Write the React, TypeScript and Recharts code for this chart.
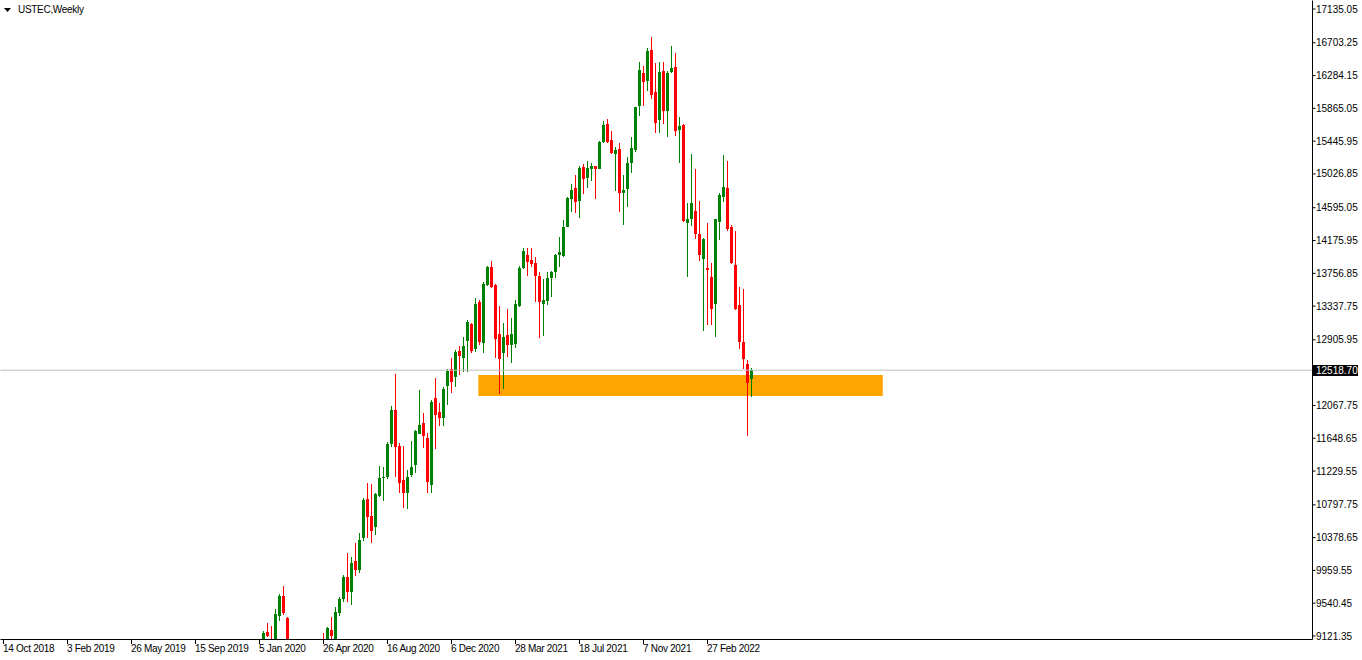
import React from 'react';
import { ComposedChart, Bar, XAxis, YAxis, ReferenceArea, ReferenceLine } from 'recharts';

// Weekly bars; week index 0 is the week of 14 Oct 2018.
// First array entry is week 65 (12 Jan 2020); nulls are weeks whose
// prices sit completely below the visible price range.
const firstWeek = 65;
const weekSlots = 328; // time scale incl. the empty space on the right

const opens = [
  8950, 9176, 9060, 8960, 9377, 9633, 9347, null,
  null, null, null, null, null, null, null, 9000,
  8740, 9198, 9070, 9420, 9590, 9880, 9690, 10080,
  9965, 10370, 10868, 10655, 10511, 10911, 11137, 11157,
  11575, 12010, 11550, 11115, 10945, 11179, 11307, 11703,
  11848, 11656, 11051, 12167, 11989, 11912, 12317, 12534,
  12428, 12764, 12678, 12896, 13105, 12786, 13394, 12860,
  13608, 13841, 13607, 12981, 12742, 12968, 12841, 12854,
  13339, 13821, 13991, 13927, 13893, 13723, 13369, 13403,
  13701, 13777, 13995, 13978, 14353, 14711, 14843, 14685,
  15112, 14979, 15090, 15128, 15094, 15430, 15662, 15461,
  15276, 15346, 14787, 14831, 15163, 15333, 15895, 16313,
  16219, 16611, 16078, 15716, 16347, 15835, 16334, 16398,
  15588, 15652, 14404, 14451, 14557, 14260, 13944, 13829,
  13714, 13365, 14417, 14737, 14847, 14353, 13863, 13352,
  12879, 12598, 12402,
];
const highs = [
  9185, 9291, 9250, 9466, 9658, 9760, 9368, null,
  null, null, null, null, null, null, null, 9163,
  9241, 9360, 9495, 9623, 9900, 10178, 10135, 10314,
  10434, 10880, 11081, 11060, 10953, 11294, 11285, 11600,
  12061, 12470, 11584, 11550, 11243, 11614, 11754, 12266,
  11968, 11712, 12138, 12423, 12096, 12308, 12538, 12671,
  12777, 12828, 12947, 13160, 13118, 13437, 13410, 13650,
  13850, 13918, 13620, 13339, 13118, 13297, 13182, 13416,
  13850, 14077, 14077, 14077, 13969, 13777, 13680, 13777,
  13790, 14004, 14225, 14438, 14736, 14899, 15013, 15128,
  15154, 15192, 15171, 15132, 15450, 15707, 15725, 15580,
  15368, 15419, 15013, 15247, 15503, 15887, 16462, 16407,
  16637, 16781, 16449, 16462, 16462, 16340, 16662, 16577,
  15751, 15665, 14652, 15282, 15086, 14681, 14212, 14396,
  13893, 14455, 14780, 15269, 15192, 14374, 14298, 13586,
  13556, 12649, 12543,
];
const lows = [
  8930, 9105, 8830, 8930, 9317, 9395, 8180, null,
  null, null, null, null, null, null, null, 8650,
  8700, 9040, 9000, 9380, 9560, 9560, 9520, 9890,
  9930, 10340, 10370, 10314, 10412, 10894, 10851, 11130,
  11533, 11150, 10945, 10753, 10741, 11150, 11208, 11700,
  11520, 10953, 10953, 11508, 11805, 11805, 12074, 12223,
  12308, 12457, 12499, 12499, 12742, 12755, 12841, 12742,
  13600, 13565, 12671, 12211, 12274, 12691, 12615, 12798,
  13322, 13808, 13723, 13834, 13394, 12926, 12956, 13352,
  13458, 13693, 13841, 13969, 14345, 14544, 14532, 14460,
  14771, 14851, 14941, 14707, 15085, 15419, 15426, 15282,
  14813, 14544, 14374, 14601, 15043, 15311, 15768, 15895,
  16091, 15981, 15546, 15554, 15665, 15495, 16321, 15512,
  15163, 14413, 13714, 14362, 14192, 13918, 13023, 13096,
  13096, 12939, 14183, 14672, 14302, 13876, 13288, 12793,
  12530, 11678, 12180,
];
const closes = [
  9163, 9121, 8900, 9402, 9633, 9411, 8460, null,
  null, null, null, null, null, null, null, 8720,
  9228, 9121, 9423, 9590, 9870, 9690, 10050, 9965,
  10348, 10860, 10638, 10467, 10936, 11145, 11157, 11575,
  12010, 11541, 11073, 10953, 11150, 11278, 11745, 11818,
  11678, 11094, 12116, 11946, 11912, 12274, 12508, 12372,
  12755, 12704, 12828, 13138, 12768, 13365, 12873, 13620,
  13841, 13578, 12913, 12658, 12939, 12841, 12981, 13365,
  13829, 14046, 13906, 13876, 13723, 13394, 13416, 13693,
  13774, 13991, 14029, 14345, 14723, 14822, 14672, 15099,
  14962, 15099, 15128, 15094, 15439, 15652, 15435, 15295,
  15333, 14787, 14822, 15171, 15355, 15879, 16355, 16206,
  16602, 16036, 15682, 16334, 15835, 16321, 16385, 15580,
  15643, 14429, 14451, 14659, 14260, 13991, 14196, 13803,
  13305, 14451, 14758, 14860, 14319, 13885, 13297, 12883,
  12666, 12359, 12518.7,
];

const tickWeeks = [0, 16, 32, 48, 64, 80, 96, 112, 128, 144, 160, 176];
const tickLabels = [
  '14 Oct 2018', '3 Feb 2019', '26 May 2019', '15 Sep 2019', '5 Jan 2020', '26 Apr 2020',
  '16 Aug 2020', '6 Dec 2020', '28 Mar 2021', '18 Jul 2021', '7 Nov 2021', '27 Feb 2022',
];
const priceTicks = [
  17135.05, 16703.25, 16284.15, 15865.05, 15445.95, 15026.85, 14595.05, 14175.95,
  13756.85, 13337.75, 12905.95, 12067.75, 11648.65, 11229.55, 10797.75, 10378.65,
  9959.55, 9540.45, 9121.35,
];
const priceRange = [9076.6, 17243.7];
const lastPrice = 12518.7;
const zoneWeeks = [119.1, 219.9];
const zonePrices = [12189, 12457];

const FONT = '"Liberation Sans", Arial, sans-serif';
const BULL = '#008000';
const BEAR = '#ff0000';
const AXIS_Y = 639.5;

const rows = Array.from({ length: weekSlots }, (_, k) => {
  const i = k - firstWeek;
  const has = i >= 0 && i < opens.length && opens[i] != null;
  return {
    k,
    o: has ? opens[i] : null,
    h: has ? highs[i] : null,
    l: has ? lows[i] : null,
    c: has ? closes[i] : null,
  };
});

const Candle = (props: any) => {
  const { x, y, width, height, payload } = props;
  if (!payload || payload.h == null) return null;
  const top = Math.min(y, y + height);
  const bottom = Math.max(y, y + height);
  const span = payload.h - payload.l;
  const py = (v: number) => (span ? top + ((payload.h - v) / span) * (bottom - top) : top);
  const cx = Math.round(x + width / 2);
  const up = payload.c >= payload.o;
  const color = up ? BULL : BEAR;
  const t = Math.round(top);
  const b = Math.max(t + 1, Math.round(bottom));
  const b1 = Math.round(py(Math.max(payload.o, payload.c)));
  const b2 = Math.max(b1 + 1, Math.round(py(Math.min(payload.o, payload.c))));
  return (
    <g>
      <rect x={cx} y={t} width={1} height={b - t} fill={color} />
      <rect x={cx - 1} y={b1} width={3} height={b2 - b1} fill={color} />
    </g>
  );
};

const TimeTick = (props: any) => {
  const { x, payload } = props;
  const idx = tickWeeks.indexOf(payload.value);
  if (idx < 0) return <g />;
  const col = Math.round(x);
  return (
    <g>
      <line x1={col + 0.5} x2={col + 0.5} y1={AXIS_Y} y2={644} stroke="#000" />
      <text x={col} y={652} fontSize={10} letterSpacing={-0.3} fontFamily={FONT} fill="#000" textAnchor="start">
        {tickLabels[idx]}
      </text>
    </g>
  );
};

const PriceTag = (props: any) => {
  const vb = props.viewBox || {};
  const right = (vb.x || 0) + (vb.width || 0);
  const yy = vb.y || 0;
  return (
    <g>
      <rect x={right + 0.5} y={Math.round(yy) - 5} width={45} height={11} fill="#000" />
      <text x={right + 3.5} y={yy + 3.6} fontSize={10} fontFamily={FONT} fill="#fff">
        {lastPrice.toFixed(2)}
      </text>
    </g>
  );
};

export default function App() {
  return (
    <div style={{ position: 'absolute', left: 0, top: 0, width: 1362, height: 660, background: '#fff' }}>
      <ComposedChart
        width={1362}
        height={660}
        data={rows}
        margin={{ top: 0.5, right: 0, bottom: 0, left: 0.5 }}
        barCategoryGap={0}
      >
        <XAxis
          dataKey="k"
          type="category"
          interval={0}
          height={20.5}
          tickLine={false}
          axisLine={{ stroke: '#000' }}
          tick={<TimeTick />}
        />
        <XAxis xAxisId="pos" type="number" domain={[-0.5, weekSlots - 0.5]} hide />
        <YAxis
          orientation="right"
          type="number"
          domain={priceRange}
          allowDataOverflow
          ticks={priceTicks}
          interval={0}
          width={49.5}
          tickSize={3}
          tickMargin={0.5}
          axisLine={{ stroke: '#000' }}
          tickLine={{ stroke: '#000' }}
          tick={{ fontSize: 10, fontFamily: FONT, fill: '#000' }}
          tickFormatter={(v: number) => v.toFixed(2)}
        />
        <ReferenceArea
          xAxisId="pos"
          x1={-0.5}
          x2={weekSlots - 0.5}
          y1={priceRange[0]}
          y2={priceRange[1]}
          fill="none"
          stroke="#000"
          strokeWidth={1}
        />
        <ReferenceArea
          xAxisId="pos"
          x1={zoneWeeks[0]}
          x2={zoneWeeks[1]}
          y1={zonePrices[0]}
          y2={zonePrices[1]}
          fill="#ffa500"
          fillOpacity={1}
          stroke="none"
        />
        <ReferenceLine y={lastPrice} stroke="#c0c0c0" strokeWidth={1} label={<PriceTag />} />
        <Bar
          dataKey={(d: any) => (d.h == null ? null : [d.l, d.h])}
          barSize={3}
          shape={<Candle />}
          isAnimationActive={false}
        />
      </ComposedChart>
      <div style={{ position: 'absolute', left: 1, top: 4, height: 13, display: 'flex', alignItems: 'flex-start', background: '#fff' }}>
        <svg width={16} height={12} style={{ display: 'block' }}>
          <polygon points="3,4 10,4 6.5,8" fill="#000" />
        </svg>
        <span style={{ fontFamily: FONT, fontSize: 10, letterSpacing: -0.3, color: '#000', lineHeight: '12px', marginLeft: 1 }}>
          USTEC,Weekly
        </span>
      </div>
    </div>
  );
}
